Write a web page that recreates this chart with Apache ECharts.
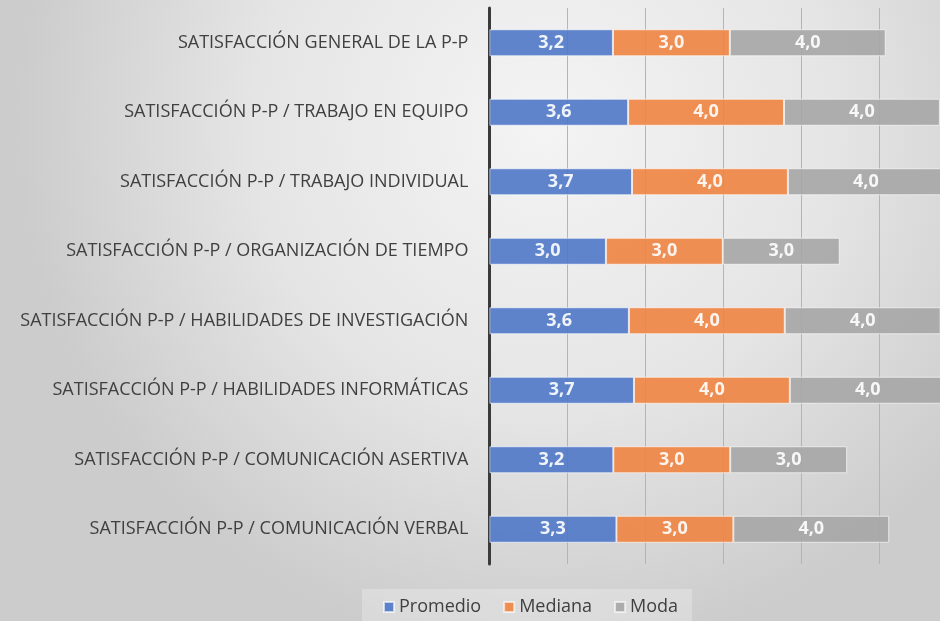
<!DOCTYPE html>
<html>
<head>
<meta charset="utf-8">
<script src="https://cdn.jsdelivr.net/npm/echarts@6/dist/echarts.min.js"></script>
<style>
  html, body { margin: 0; padding: 0; }
  #chart { width: 940px; height: 621px; }
</style>
</head>
<body>
<div id="chart"></div>
<script>
// categorias, de arriba hacia abajo
let categorias = [
  'SATISFACCIÓN GENERAL DE LA P-P',
  'SATISFACCIÓN P-P / TRABAJO EN EQUIPO',
  'SATISFACCIÓN P-P / TRABAJO INDIVIDUAL',
  'SATISFACCIÓN P-P / ORGANIZACIÓN DE TIEMPO',
  'SATISFACCIÓN P-P / HABILIDADES DE INVESTIGACIÓN',
  'SATISFACCIÓN P-P / HABILIDADES INFORMÁTICAS',
  'SATISFACCIÓN P-P / COMUNICACIÓN ASERTIVA',
  'SATISFACCIÓN P-P / COMUNICACIÓN VERBAL'
];
let promedio = [3.17, 3.56, 3.66, 2.99, 3.58, 3.71, 3.18, 3.26];
let mediana = [3, 4, 4, 3, 4, 4, 3, 3];
let moda = [4, 4, 4, 3, 4, 4, 3, 4];
let nombres = ['Promedio', 'Mediana', 'Moda'];
let colores = ['#4f78c8', '#ee8442', '#a6a6a6'];

var myChart = echarts.init(document.getElementById('chart'));

function serie(name, data, color) {
  return {
    name: name,
    type: 'bar',
    stack: 'total',
    data: data,
    barWidth: 27,
    itemStyle: { color: color, opacity: 0.9, borderColor: 'rgba(255,255,255,0.7)', borderWidth: 1 },
    label: {
      show: true,
      position: 'inside',
      color: '#ffffff',
      fontFamily: 'Open Sans',
      fontWeight: 'bold',
      fontSize: 18,
      formatter: function (p) { return p.value.toFixed(1).replace('.', ','); }
    },
    emphasis: { disabled: true }
  };
}

myChart.setOption({
  animation: false,
  backgroundColor: new echarts.graphic.RadialGradient(0.58, 0.2, 0.85, [
    { offset: 0, color: '#f4f4f4' },
    { offset: 0.55, color: '#e5e5e5' },
    { offset: 1, color: '#cccccc' }
  ]),
  textStyle: { fontFamily: 'Open Sans' },
  legend: {
    data: nombres,
    bottom: -4,
    left: 362,
    itemWidth: 10,
    itemHeight: 10,
    itemGap: 22,
    padding: [9, 14, 9, 21],
    backgroundColor: 'rgba(255,255,255,0.25)',
    textStyle: { color: '#404040', fontSize: 18, fontFamily: 'Open Sans' },
    icon: 'rect'
  },
  grid: {
    left: 489.4,
    right: -17,
    top: 8,
    bottom: 57,
    outerBoundsMode: 'none'
  },
  xAxis: {
    type: 'value',
    min: 0,
    max: 12,
    interval: 2,
    axisLine: { show: false },
    axisTick: { show: false },
    axisLabel: { show: false },
    splitLine: { lineStyle: { color: '#b4b4b4', width: 1 } }
  },
  yAxis: {
    type: 'category',
    inverse: true,
    data: categorias,
    axisLine: { lineStyle: { color: '#3a3a3a', width: 3 } },
    axisTick: { show: false },
    axisLabel: { color: '#404040', fontSize: 18, fontFamily: 'Open Sans', margin: 21 }
  },
  series: [
    serie(nombres[0], promedio, colores[0]),
    serie(nombres[1], mediana, colores[1]),
    serie(nombres[2], moda, colores[2])
  ]
});
</script>
</body>
</html>
